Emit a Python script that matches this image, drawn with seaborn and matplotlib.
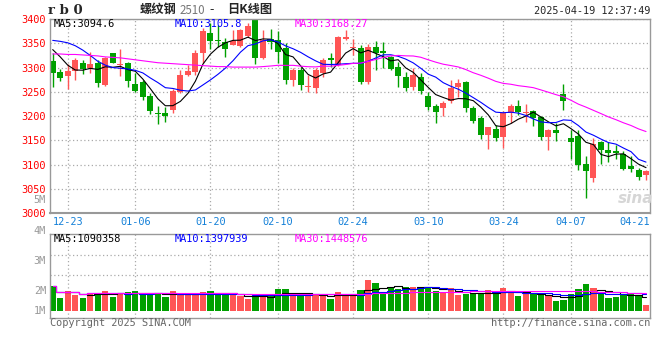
import numpy as np
import pandas as pd
import matplotlib
matplotlib.use("Agg")
import matplotlib.pyplot as plt
import seaborn as sns

# daily candles, 80 trading days (12-19 .. 04-21)
opens = [3313, 3291, 3283, 3292, 3309, 3299, 3310, 3264, 3329, 3306,
         3310, 3266, 3270, 3241, 3207, 3207, 3213, 3250, 3284, 3290,
         3330, 3371, 3357, 3352, 3347, 3344, 3365, 3398, 3320, 3358,
         3356, 3340, 3274, 3296, 3261, 3258, 3289, 3319, 3306, 3358,
         3340, 3340, 3271, 3342, 3334, 3322, 3301, 3280, 3260, 3281,
         3241, 3220, 3217, 3232, 3259, 3270, 3217, 3197, 3162, 3173,
         3157, 3206, 3220, 3206, 3210, 3198, 3157, 3171, 3245, 3155,
         3159, 3101, 3073, 3146, 3130, 3128, 3122, 3097, 3090, 3079]
highs = [3329, 3297, 3308, 3319, 3315, 3332, 3315, 3322, 3331, 3338,
         3312, 3288, 3274, 3247, 3220, 3218, 3255, 3296, 3306, 3336,
         3381, 3392, 3387, 3360, 3378, 3380, 3391, 3400, 3377, 3380,
         3376, 3350, 3299, 3302, 3285, 3300, 3320, 3331, 3364, 3378,
         3358, 3346, 3348, 3355, 3353, 3324, 3312, 3291, 3300, 3289,
         3250, 3226, 3231, 3275, 3277, 3273, 3220, 3200, 3178, 3181,
         3210, 3226, 3233, 3226, 3212, 3200, 3173, 3185, 3266, 3171,
         3171, 3118, 3154, 3148, 3147, 3141, 3128, 3118, 3094, 3090]
lows = [3259, 3273, 3255, 3274, 3287, 3289, 3260, 3262, 3309, 3283,
        3261, 3249, 3233, 3204, 3184, 3188, 3207, 3247, 3282, 3285,
        3310, 3339, 3343, 3322, 3346, 3342, 3362, 3308, 3317, 3338,
        3309, 3267, 3262, 3254, 3250, 3248, 3281, 3301, 3304, 3357,
        3325, 3267, 3267, 3296, 3300, 3296, 3260, 3252, 3253, 3245,
        3213, 3186, 3200, 3228, 3240, 3209, 3185, 3152, 3132, 3148,
        3135, 3185, 3203, 3188, 3180, 3151, 3130, 3149, 3213, 3112,
        3090, 3032, 3065, 3102, 3106, 3111, 3089, 3085, 3069, 3069]
closes = [3288, 3279, 3293, 3315, 3298, 3307, 3268, 3320, 3310, 3308,
          3273, 3251, 3240, 3211, 3204, 3201, 3252, 3284, 3293, 3330,
          3376, 3355, 3355, 3339, 3355, 3378, 3386, 3320, 3356, 3352,
          3332, 3274, 3296, 3265, 3263, 3295, 3315, 3315, 3362, 3362,
          3341, 3271, 3342, 3330, 3329, 3297, 3283, 3258, 3284, 3252,
          3219, 3209, 3228, 3257, 3268, 3217, 3189, 3162, 3177, 3156,
          3207, 3221, 3208, 3209, 3196, 3157, 3172, 3166, 3231, 3146,
          3100, 3088, 3142, 3130, 3124, 3125, 3091, 3092, 3074, 3088]
# volume in millions of lots
volumes = [2.00, 1.06, 1.60, 1.28, 1.06, 1.42, 1.46, 1.60, 1.14, 1.46,
           1.54, 1.60, 1.28, 1.36, 1.46, 1.14, 1.60, 1.28, 1.28, 1.46,
           1.52, 1.62, 1.28, 1.36, 1.28, 1.22, 0.94, 1.20, 1.20, 1.20,
           1.76, 1.76, 1.28, 1.28, 1.28, 1.36, 1.28, 0.96, 1.52, 1.20,
           1.36, 1.68, 2.48, 2.24, 1.46, 1.92, 1.76, 1.92, 1.92, 1.92,
           1.92, 1.60, 1.52, 1.84, 1.28, 1.36, 1.36, 1.44, 1.68, 1.44,
           1.84, 1.60, 1.20, 1.36, 1.36, 1.28, 1.28, 0.80, 0.88, 1.36,
           1.76, 2.16, 1.84, 1.36, 1.04, 1.12, 1.36, 1.44, 1.28, 0.48]

# moving-average values at the left edge (window starts before the chart)
ma5_head = [3337, 3322, 3305, 3295]
ma10_head = [3356, 3354, 3351, 3345, 3336, 3325, 3313, 3305, 3300]
ma30_head = [3328, 3328, 3327, 3327, 3326, 3325, 3324, 3322, 3321, 3320,
             3318, 3316, 3314, 3312, 3310, 3309, 3308, 3307, 3306, 3305,
             3304, 3303, 3302, 3302, 3301, 3301, 3301, 3301, 3302]

date_labels = ["12-23", "01-06", "01-20", "02-10", "02-24", "03-10", "03-24", "04-07"]
date_pos = [2, 11, 21, 30, 40, 50, 60, 69]
last_label = "04-21"
price_ticks = list(range(3000, 3401, 50))
vol_labels = ["5M", "4M", "3M", "2M", "1M"]
vol_label_rows = [200, 230.7, 260.7, 290.7, 310.7]   # Sina puts these oddly
vol_grid = [2.86, 4.46]

UP, DOWN = "#ff5555", "#00a000"
GRID = "#aaaaaa"
MONO = "DejaVu Sans Mono"


def moving(values, n, head):
    s = pd.Series(values, dtype=float).rolling(n).mean()
    s.iloc[:len(head)] = head
    return s.to_numpy()


def fx(x, y):
    return x / 660, 1 - y / 360


sns.set_style("white")
plt.rcParams["font.family"] = [MONO, "Noto Sans CJK SC"]

o, h, l, c = map(np.array, (opens, highs, lows, closes))
x = np.arange(len(c))
cols = [UP if cc >= oo else DOWN for oo, cc in zip(o, c)]

fig = plt.figure(figsize=(6.6, 3.6), dpi=100)
ax = fig.add_axes([50 / 660, (360 - 213.3) / 360, 600 / 660, 194.3 / 360])
axv = fig.add_axes([50 / 660, (360 - 317.7) / 360, 600 / 660, 83.4 / 360])

# --- price panel ---
ax.vlines(x, l, h, colors=cols, lw=1, zorder=2)
ax.bar(x, np.maximum(np.abs(c - o), 1.6), bottom=np.minimum(o, c), width=0.8,
       color=cols, lw=0, zorder=3)
sns.lineplot(x=x, y=moving(closes, 5, ma5_head), ax=ax, color="black", lw=0.8, zorder=4)
sns.lineplot(x=x, y=moving(closes, 10, ma10_head), ax=ax, color="#0000ff", lw=0.8, zorder=4)
sns.lineplot(x=x, y=moving(closes, 30, ma30_head), ax=ax, color="#ff00ff", lw=0.8, zorder=4)

ax.set_xlim(-0.36, 79.53)
ax.set_ylim(3000, 3400)
ax.set_yticks(price_ticks)
ax.set_yticklabels([str(t) for t in price_ticks])
ax.set_xticks(date_pos)
ax.set_xticklabels(date_labels)
ax.tick_params(axis="y", length=0, pad=3, labelcolor="#ff0000", labelsize=7.4)
ax.tick_params(axis="x", length=0, pad=3, labelcolor="#1480d8", labelsize=7.4)
ax.grid(True, color=GRID, linestyle=(0, (1, 2)), lw=0.9)
ax.set_xlabel("")
ax.set_ylabel("")
ax.text(1.0, -0.02, last_label, transform=ax.transAxes, ha="right", va="top",
        color="#1480d8", fontsize=7.4)

# --- volume panel ---
axv.bar(x, volumes, width=0.84, color=cols, lw=0, zorder=2)
vs = pd.Series(volumes)
for n, col in [(5, "black"), (10, "#0000ff"), (30, "#ff00ff")]:
    sns.lineplot(x=x, y=vs.rolling(n, min_periods=1).mean().to_numpy(), ax=axv,
                 color=col, lw=0.8, drawstyle="steps-mid", zorder=3)
axv.set_xlim(-0.36, 79.53)
axv.set_ylim(-0.536, 6.136)
axv.set_xticks(date_pos)
axv.set_yticks(vol_grid)
axv.set_xticklabels([])
axv.set_yticklabels([])
axv.tick_params(length=0)
axv.grid(True, color=GRID, linestyle=(0, (1, 2)), lw=0.9)
axv.set_xlabel("")
axv.set_ylabel("")

for a in (ax, axv):
    for sp in a.spines.values():
        sp.set_color("#999999")
        sp.set_linewidth(1)
        sp.set_zorder(5)
ax.spines["bottom"].set_linewidth(1.5)

# --- header / legends / footer text ---
fig.text(*fx(48, 11), "r b 0", family="DejaVu Serif", weight="bold", fontsize=9.5, va="center")
fig.text(*fx(140, 9.5), "螺纹钢", family=["Noto Sans CJK SC"], fontsize=8.8, va="center",
         weight="bold")
fig.text(*fx(180, 10), "2510", family=["Noto Sans CJK SC"], fontsize=8.3, va="center", color="#777777")
fig.text(*fx(209, 9.5), "-", family=["Noto Sans CJK SC"], fontsize=9, va="center")
fig.text(*fx(227, 9.5), "日K线图", family=["Noto Sans CJK SC"], fontsize=8.8, va="center",
         weight="bold")
fig.text(*fx(650, 11.5), "2025-04-19 12:37:49", fontsize=7.4, ha="right", va="center")

fig.text(*fx(54, 24), "MA5:3094.6", fontsize=7.4, va="center", color="black")
fig.text(*fx(175, 24), "MA10:3105.8", fontsize=7.4, va="center", color="#0000ff")
fig.text(*fx(295, 24), "MA30:3168.27", fontsize=7.4, va="center", color="#ff00ff")
fig.text(*fx(54, 238.5), "MA5:1090358", fontsize=7.4, va="center", color="black")
fig.text(*fx(175, 238.5), "MA10:1397939", fontsize=7.4, va="center", color="#0000ff")
fig.text(*fx(295, 238.5), "MA30:1448576", fontsize=7.4, va="center", color="#ff00ff")

for lab, row in zip(vol_labels, vol_label_rows):
    fig.text(*fx(46, row), lab, fontsize=7.4, ha="right", va="center", color="#999999")

fig.text(*fx(50, 323.5), "Copyright 2025 SINA.COM", fontsize=7.4, va="center", color="#666666")
fig.text(*fx(650, 323.5), "http://finance.sina.com.cn", fontsize=7.4, ha="right", va="center",
         color="#666666")
fig.text(*fx(636, 198), "sina", family="DejaVu Sans", style="italic", weight="bold",
         fontsize=11, ha="center", va="center", color="#d6d6d6")

fig.savefig("out.png", dpi=100)
